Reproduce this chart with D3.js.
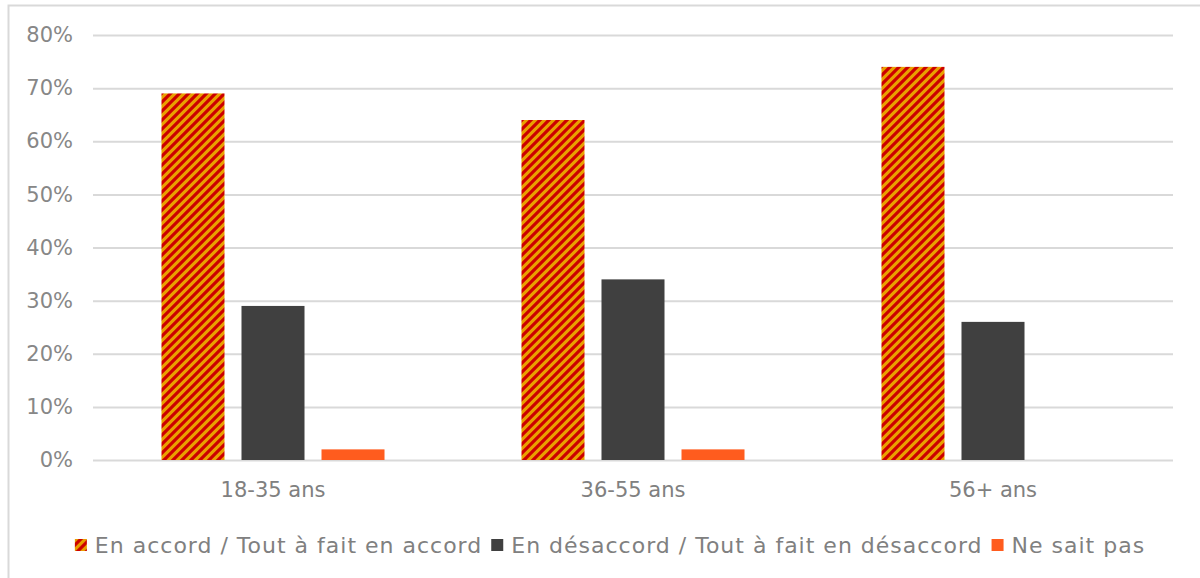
<!DOCTYPE html>
<html>
<head>
<meta charset="utf-8">
<script src="https://cdn.jsdelivr.net/npm/d3@7"></script>
<style>
  html, body { margin: 0; padding: 0; background: #fff; }
  svg { display: block; font-family: "DejaVu Sans", sans-serif; }
</style>
</head>
<body>
<svg id="chart" width="1200" height="578"></svg>
<script>
// ---- data ----
const categories = ["18-35 ans", "36-55 ans", "56+ ans"];
const seriesNames = ["En accord / Tout à fait en accord", "En désaccord / Tout à fait en désaccord", "Ne sait pas"];
const accordValues = [0.69, 0.64, 0.74];
const desaccordValues = [0.29, 0.34, 0.26];
const nspValues = [0.02, 0.02, 0];
const yTicks = [0, 0.1, 0.2, 0.3, 0.4, 0.5, 0.6, 0.7, 0.8];

// ---- layout ----
const plot = { left: 93, right: 1173, top: 35, bottom: 460 };
const svg = d3.select("#chart");
const defs = svg.append("defs");

// striped pattern (wide upward diagonal)
const P = 9;
const pat = defs.append("pattern")
  .attr("id", "stripes").attr("patternUnits", "userSpaceOnUse")
  .attr("width", P).attr("height", P);
pat.append("rect").attr("width", P).attr("height", P).attr("fill", "#E9A000");
pat.append("path")
  .attr("d", `M-3,3 L3,-3 M0,${P} L${P},0 M${P - 3},${P + 3} L${P + 3},${P - 3}`)
  .attr("stroke", "#CC0000").attr("stroke-width", 3.2);

const fills = ["url(#stripes)", "#404040", "#FF5C1E"];

// outer border
svg.append("rect")
  .attr("x", 8.5).attr("y", 5.5).attr("width", 1220).attr("height", 600)
  .attr("fill", "#fff").attr("stroke", "#d9d9d9").attr("stroke-width", 2);

const y = d3.scaleLinear().domain([0, 0.8]).range([plot.bottom, plot.top]);
const x0 = d3.scaleBand().domain(categories).range([plot.left, plot.right]);
const x1 = d3.scaleBand().domain(seriesNames).range([0, x0.bandwidth()])
  .paddingInner(0.2125).paddingOuter(0.856);

// y axis + gridlines
const yAxis = svg.append("g")
  .attr("transform", `translate(${plot.left},0)`)
  .call(d3.axisLeft(y).tickValues(yTicks).tickFormat(d3.format(".0%"))
    .tickSize(-(plot.right - plot.left)).tickPadding(20));
yAxis.select(".domain").remove();
yAxis.selectAll(".tick line").attr("stroke", "#d9d9d9").attr("stroke-width", 2);
yAxis.selectAll(".tick text").attr("fill", "#878787").attr("font-size", 21)
  .attr("font-family", "DejaVu Sans");

// x axis labels
const xAxis = svg.append("g")
  .attr("transform", `translate(0,${plot.bottom})`)
  .call(d3.axisBottom(x0).tickSize(0).tickPadding(22));
xAxis.select(".domain").remove();
xAxis.selectAll(".tick text").attr("fill", "#808080").attr("font-size", 21)
  .attr("font-family", "DejaVu Sans");

// bars
const rows = categories.map((c, i) => ({
  cat: c,
  vals: [accordValues[i], desaccordValues[i], nspValues[i]]
}));
const groups = svg.append("g").selectAll("g").data(rows).join("g")
  .attr("transform", d => `translate(${x0(d.cat)},0)`);
groups.selectAll("rect")
  .data(d => d.vals.map((v, j) => ({ s: seriesNames[j], v, j })))
  .join("rect")
  .attr("x", d => x1(d.s))
  .attr("width", x1.bandwidth())
  .attr("y", d => y(d.v))
  .attr("height", d => y(0) - y(d.v))
  .attr("fill", d => fills[d.j]);

// legend
const legend = svg.append("g");
const items = legend.selectAll("g").data(seriesNames).join("g");
items.append("rect").attr("width", 12).attr("height", 12).attr("y", -6)
  .attr("fill", (d, i) => fills[i]);
items.append("text").text(d => d).attr("x", 20).attr("dy", "0.36em")
  .attr("fill", "#808080").attr("font-size", 22).attr("letter-spacing", 1);
let cx = 0;
items.each(function () {
  const tw = d3.select(this).select("text").node().getComputedTextLength();
  d3.select(this).attr("transform", `translate(${cx},0)`);
  cx += 20 + tw + 9;
});
const totalW = cx - 9;
legend.attr("transform", `translate(${610 - totalW / 2},545)`);
</script>
</body>
</html>
